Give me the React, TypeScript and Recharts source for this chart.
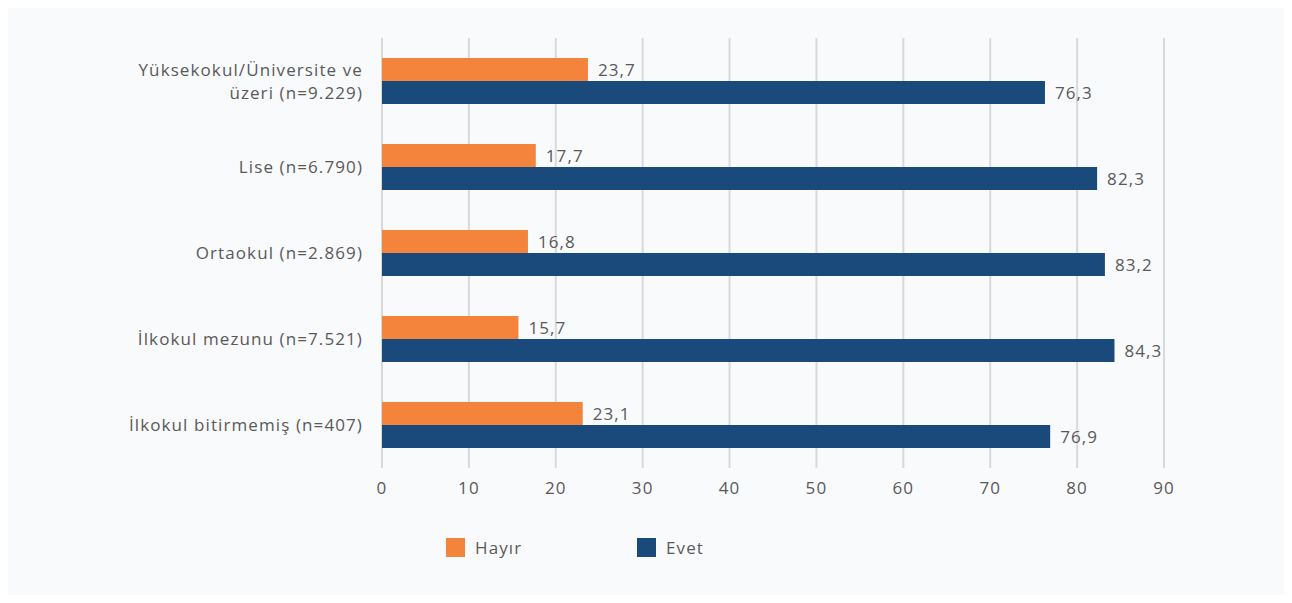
import { Bar, BarChart, CartesianGrid, LabelList, Legend, XAxis, YAxis } from "recharts"

const categories = [
    "Yüksekokul/Üniversite ve\nüzeri (n=9.229)",
    "Lise (n=6.790)",
    "Ortaokul (n=2.869)",
    "İlkokul mezunu (n=7.521)",
    "İlkokul bitirmemiş (n=407)",
]
const hayir = [23.7, 17.7, 16.8, 15.7, 23.1]
const evet = [76.3, 82.3, 83.2, 84.3, 76.9]
const xTicks = [0, 10, 20, 30, 40, 50, 60, 70, 80, 90]

const data = categories.map((name, i) => ({ name, hayir: hayir[i], evet: evet[i] }))

const FONT = "'Open Sans', 'Noto Sans', sans-serif"
const SIZE = 17
const SPACING = 1.1
const TEXT = "#595959"
const ORANGE = "#f4833c"
const BLUE = "#194a7b"

const fmt = (v: any) => String(v).replace(".", ",")

function CategoryTick(props: any) {
    const { x, y, payload } = props
    const lines = String(payload.value).split("\n")
    const lh = 23
    const start = -((lines.length - 1) * lh) / 2
    return (
        <text
            x={x}
            y={y}
            textAnchor="end"
            fill={TEXT}
            fontSize={SIZE}
            fontFamily={FONT}
            letterSpacing={SPACING}
        >
            {lines.map((l, i) => (
                <tspan key={i} x={x} dy={i === 0 ? start + 6 : lh}>
                    {l}
                </tspan>
            ))}
        </text>
    )
}

function LegendContent() {
    const items = [
        { label: "Hayır", color: ORANGE },
        { label: "Evet", color: BLUE },
    ]
    return (
        <div style={{ display: "flex", alignItems: "center" }}>
            {items.map((it) => (
                <div key={it.label} style={{ display: "flex", alignItems: "center", width: 191 }}>
                    <div style={{ width: 19, height: 19, background: it.color, marginRight: 10 }} />
                    <span style={{ color: TEXT, fontSize: SIZE, fontFamily: FONT, letterSpacing: SPACING }}>
                        {it.label}
                    </span>
                </div>
            ))}
        </div>
    )
}

export default function App() {
    return (
        <div style={{ margin: -8, width: 1292, height: 603, background: "#ffffff", position: "relative" }}>
            <div style={{ position: "absolute", left: 6, top: 6, width: 1280, height: 594, background: "#f9fafc" }}>
                <BarChart
                    width={1280}
                    height={594}
                    data={data}
                    layout="vertical"
                    margin={{ top: 32, right: 122, left: 0, bottom: 41 }}
                    barGap={0}
                    barSize={23}
                >
                    <CartesianGrid horizontal={false} stroke="#d9d9d9" strokeWidth={2} />
                    <XAxis
                        type="number"
                        domain={[0, 90]}
                        ticks={xTicks}
                        tickLine={false}
                        axisLine={false}
                        tickMargin={8}
                        height={68}
                        tick={{ fill: TEXT, fontSize: SIZE, fontFamily: FONT, letterSpacing: SPACING }}
                    />
                    <YAxis
                        type="category"
                        dataKey="name"
                        width={376}
                        tickLine={false}
                        axisLine={false}
                        tickMargin={13}
                        tick={<CategoryTick />}
                    />
                    <Legend
                        verticalAlign="bottom"
                        content={<LegendContent />}
                        wrapperStyle={{ left: 440, width: 400 }}
                    />
                    <Bar dataKey="hayir" name="Hayır" fill={ORANGE} isAnimationActive={false}>
                        <LabelList
                            dataKey="hayir"
                            position="right"
                            offset={10}
                            formatter={fmt}
                            fill={TEXT}
                            fontSize={SIZE}
                            fontFamily={FONT}
                            letterSpacing={SPACING}
                        />
                    </Bar>
                    <Bar dataKey="evet" name="Evet" fill={BLUE} isAnimationActive={false}>
                        <LabelList
                            dataKey="evet"
                            position="right"
                            offset={10}
                            formatter={fmt}
                            fill={TEXT}
                            fontSize={SIZE}
                            fontFamily={FONT}
                            letterSpacing={SPACING}
                        />
                    </Bar>
                </BarChart>
            </div>
        </div>
    )
}
